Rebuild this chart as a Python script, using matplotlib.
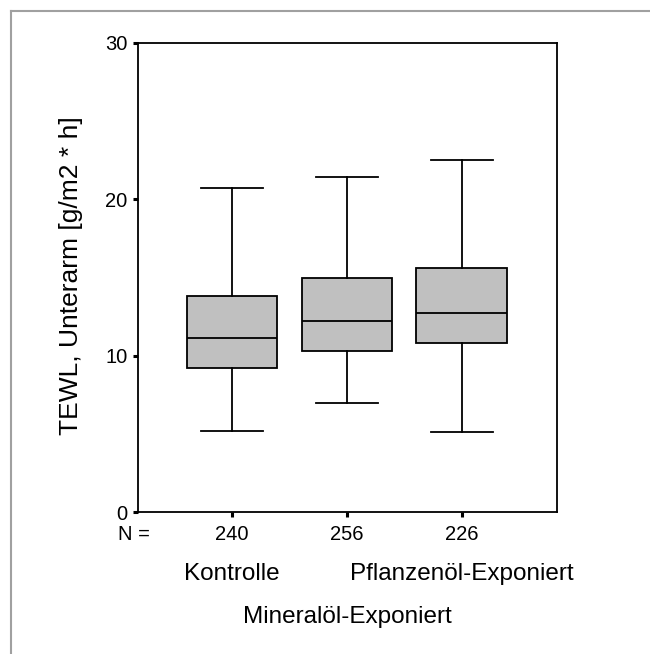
import matplotlib
matplotlib.use("Agg")
import matplotlib.pyplot as plt
from matplotlib.lines import Line2D

plt.rcParams["font.family"] = ["Liberation Sans", "DejaVu Sans"]

# box statistics
groups = ["Kontrolle", "Mineralöl-Exponiert", "Pflanzenöl-Exponiert"]
n_values = [240, 256, 226]
whis_lo = [5.2, 7.0, 5.1]
q1 = [9.2, 10.3, 10.8]
medians = [11.1, 12.2, 12.7]
q3 = [13.8, 15.0, 15.6]
whis_hi = [20.7, 21.45, 22.5]

W, H = 650, 654
fig = plt.figure(figsize=(W / 100, H / 100), dpi=100)
ax = fig.add_axes([138 / W, 1 - 512 / H, (557 - 138) / W, 469 / H])

stats = []
for i in range(len(groups)):
    stats.append(dict(med=medians[i], q1=q1[i], q3=q3[i],
                      whislo=whis_lo[i], whishi=whis_hi[i], fliers=[]))

ax.bxp(stats, positions=[1, 2, 3], widths=0.79, capwidths=0.54,
       showfliers=False, patch_artist=True,
       boxprops=dict(facecolor="#c0c0c0", edgecolor="black", linewidth=1.3),
       medianprops=dict(color="black", linewidth=1.3),
       whiskerprops=dict(color="black", linewidth=1.3),
       capprops=dict(color="black", linewidth=1.3))

ax.set_xlim(0.18, 3.83)
ax.set_ylim(0, 30)
ax.set_yticks([0, 10, 20, 30])
ax.set_xticks([1, 2, 3])
ax.set_xticklabels([str(n) for n in n_values])
ax.tick_params(axis="both", direction="out", length=3.5, width=2.2,
               labelsize=14.5, colors="black")
ax.tick_params(axis="x", pad=5.5)
ax.tick_params(axis="y", pad=4)
for s in ax.spines.values():
    s.set_linewidth(1.3)

fig.text(78 / W, 1 - 276 / H, "TEWL, Unterarm [g/m2 * h]", rotation=90,
         rotation_mode="anchor", ha="center", va="baseline", fontsize=19)

tr = ax.get_xaxis_transform()
ax.text((118 - 138) / (557 - 138), -0.0597, "N =", transform=ax.transAxes,
        fontsize=14.5, ha="left", va="baseline")
ax.text(1, -0.145, groups[0], transform=tr, fontsize=17.5, ha="center", va="baseline")
ax.text(3, -0.145, groups[2], transform=tr, fontsize=17.5, ha="center", va="baseline")
ax.text(2, -0.2367, groups[1], transform=tr, fontsize=17.5, ha="center", va="baseline")

# gray outer frame (top and left edges only visible)
fig.add_artist(Line2D([11 / W, 1], [1 - 11 / H, 1 - 11 / H], color="#a0a0a0",
                      linewidth=1.5, transform=fig.transFigure))
fig.add_artist(Line2D([11 / W, 11 / W], [1 - 11 / H, 0], color="#a0a0a0",
                      linewidth=1.5, transform=fig.transFigure))

fig.savefig("out.png", dpi=100)
